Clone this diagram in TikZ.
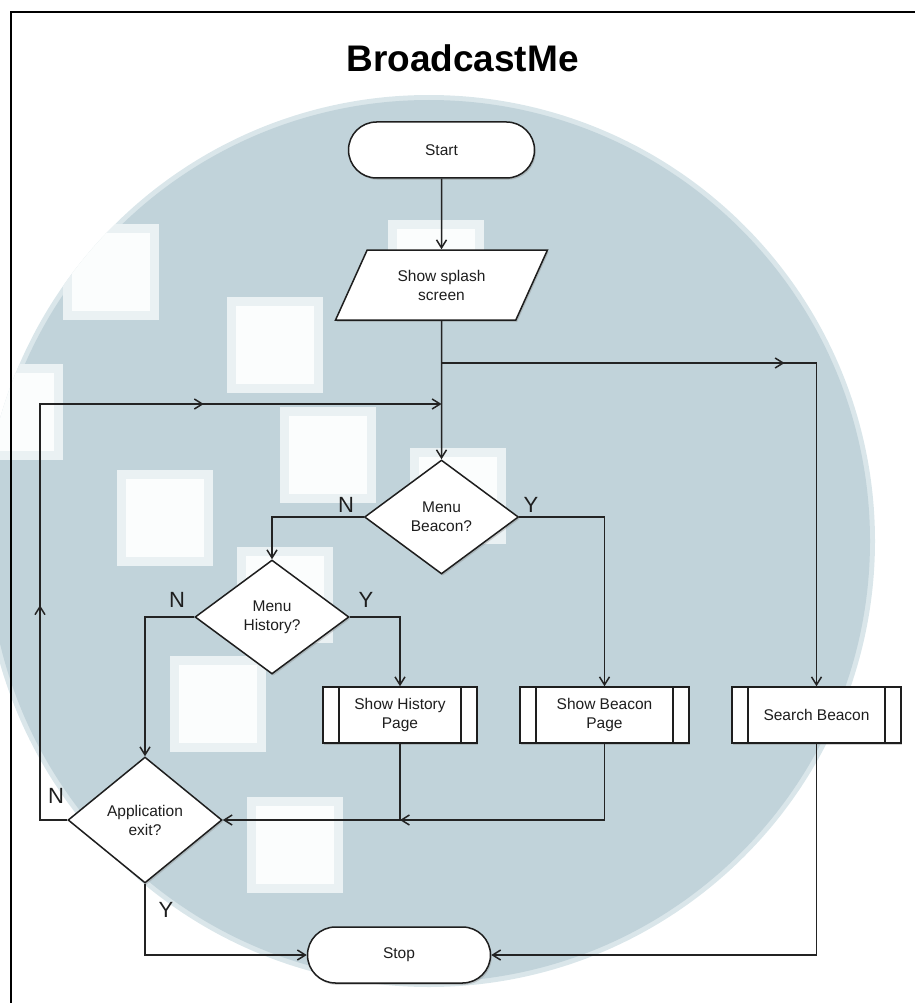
\documentclass[tikz,border=0pt]{standalone}
\usepackage{fontspec}
\setmainfont{Liberation Sans}
\usetikzlibrary{shapes.geometric, arrows.meta, decorations.markings, shadows, calc}

\definecolor{logoblue}{RGB}{193,211,218}
\definecolor{logoedge}{RGB}{218,230,234}
\definecolor{squarerim}{RGB}{234,241,243}
\definecolor{squarein}{RGB}{251,253,253}
\definecolor{ink}{RGB}{30,30,30}
\definecolor{wire}{RGB}{35,35,35}

\begin{document}
\begin{tikzpicture}[x=1pt, y=-1pt,
  shapebase/.style={draw=ink, line width=1.5pt, fill=white, inner sep=0pt,
    font=\fontsize{15.5}{19}\selectfont, text=ink, align=center,
    drop shadow={shadow xshift=1.3pt, shadow yshift=-1.8pt, opacity=0.35}},
  terminal/.style={shapebase, rectangle, rounded corners=28pt,
    minimum width=186pt, minimum height=56pt},
  io/.style={shapebase, trapezium, trapezium left angle=58.4,
    trapezium right angle=121.6, trapezium stretches=true,
    minimum width=212pt, minimum height=70pt},
  decision/.style={shapebase, diamond, minimum width=154pt, minimum height=114pt},
  subproc/.style={shapebase, rectangle, minimum height=56pt,
    path picture={\draw[draw=ink, line width=1.5pt]
      ([xshift=16pt]path picture bounding box.north west) --
      ([xshift=16pt]path picture bounding box.south west)
      ([xshift=-16pt]path picture bounding box.north east) --
      ([xshift=-16pt]path picture bounding box.south east);}},
  wire/.style={draw=wire, line width=1.5pt},
  arr/.style={wire, -{Straight Barb[length=8pt, width=10pt]}},
  markarrow/.style={postaction={decorate, decoration={markings,
    mark=at position #1 with {\arrow{Straight Barb[length=8pt, width=10pt]}}}}},
  lbl/.style={font=\fontsize{22}{26}\selectfont, text=ink, inner sep=0pt, anchor=base},
]
\useasboundingbox (0,0) rectangle (914,1003);

% logo backdrop: disc with pale squares
\fill[logoedge] (429,541) circle (446);
\fill[logoblue] (429,541) circle (441);
\begin{scope}
  \clip (429,541) circle (446);
  \foreach \sx/\sy in {63/224, 227/297, 117/470, 280/407, 410/448,
                       237/547, 170/656, 247/797, 388/220, -33/364} {
    \fill[squarerim] (\sx,\sy) rectangle ++(96,96);
    \fill[squarein] (\sx+9,\sy+9) rectangle ++(78,78);
  }
\end{scope}

% frame
\draw[black, line width=2pt] (11,1010) -- (11,12) -- (920,12);

% title
\node[font=\fontsize{37}{44}\selectfont\bfseries, anchor=base, inner sep=0pt]
  (title) at (462.5,72) {BroadcastMe};

% flowchart nodes
\node[terminal] (start) at (441.5,150) {Start};
\node[io] (splash) at (441.5,285) {Show splash\\screen};
\node[decision] (beacon) at (441.5,517) {Menu\\Beacon?};
\node[decision] (history) at (272,617) {Menu\\History?};
\node[decision, minimum height=126pt] (exit) at (145,820) {Application\\exit?};
\node[subproc, minimum width=154pt] (shist) at (400,715) {Show History\\Page};
\node[subproc, minimum width=169pt] (sbeacon) at (604.5,715) {Show Beacon\\Page};
\node[subproc, minimum width=169pt] (search) at (816.5,715) {Search Beacon};
\node[terminal, minimum width=183pt] (stop) at (399,955) {Stop};

% junctions on the main trunk
\coordinate (j1) at (441.5,363);
\coordinate (j2) at (441.5,404);
\coordinate (loopc) at (40,404);
\coordinate (merge) at (shist.south |- exit.east);

% connectors
\draw[arr] (start.south) -- (splash.north);
\draw[arr] (splash.south) -- (beacon.north);
\draw[arr, markarrow=343pt] (j1) -| (search.north);
\draw[arr, markarrow=242pt, markarrow=607pt] (exit.west) -| (loopc) -- (j2);
\draw[arr] (beacon.west) -| (history.north);
\draw[arr] (beacon.east) -| (sbeacon.north);
\draw[arr] (history.west) -| (exit.north);
\draw[arr] (history.east) -| (shist.north);
\draw[arr] (shist.south) |- (exit.east);
\draw[arr] (sbeacon.south) |- (merge);
\draw[arr] (exit.south) |- (stop.west);
\draw[arr] (search.south) |- (stop.east);

% branch labels
\node[lbl] (bn) at (346,512) {N};
\node[lbl] (by) at (531,512) {Y};
\node[lbl] (hn) at (177,607) {N};
\node[lbl] (hy) at (366,607) {Y};
\node[lbl] (en) at (56,803) {N};
\node[lbl] (ey) at (166,917) {Y};
\end{tikzpicture}
\end{document}
